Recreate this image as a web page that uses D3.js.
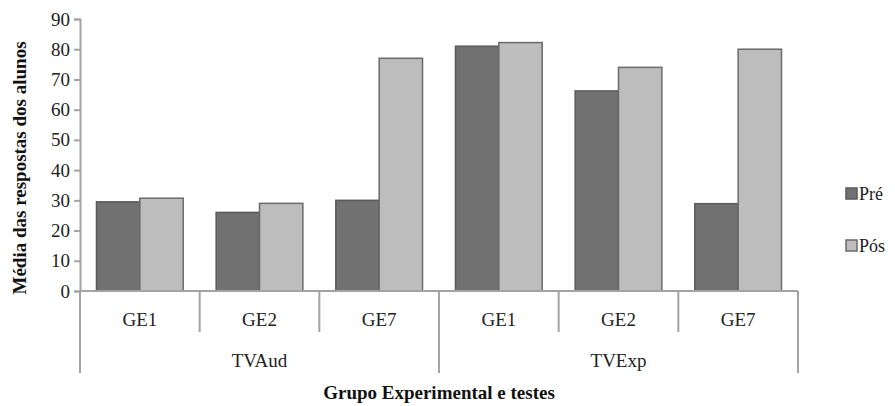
<!DOCTYPE html>
<html>
<head>
<meta charset="utf-8">
<script src="https://cdn.jsdelivr.net/npm/d3@7"></script>
<style>
  body { margin: 0; background: #fff; }
</style>
</head>
<body>
<svg></svg>
<script>
// grupos e testes
var groups = ["TVAud", "TVExp"];
var subgroups = ["GE1", "GE2", "GE7"];
var series = ["Pré", "Pós"];
var pre = [29.5, 26.0, 30.0, 81.0, 66.2, 28.9];
var pos = [30.7, 29.0, 77.0, 82.2, 74.0, 80.0];
var yTicks = [0, 10, 20, 30, 40, 50, 60, 70, 80, 90];

var serif = "'Liberation Serif', 'DejaVu Serif', serif";
var screen = {width: 895, height: 406};
var plot = {left: 80, right: 798, top: 19, bottom: 291};

var svg = d3.select("svg")
    .attr("width", screen.width)
    .attr("height", screen.height);

var cats = [];
groups.forEach(function(g) {
    subgroups.forEach(function(s) { cats.push(g + "|" + s); });
});

var xScale = d3.scaleBand()
    .domain(cats)
    .range([plot.left, plot.right]);

var xInner = d3.scaleBand()
    .domain(series)
    .range([0, xScale.bandwidth()])
    .paddingInner(0)
    .paddingOuter(0.38);

var yScale = d3.scaleLinear()
    .domain([0, 90])
    .range([plot.bottom, plot.top]);

var colors = {"Pré": "#717171", "Pós": "#bdbdbd"};
var strokes = {"Pré": "#5a5a5a", "Pós": "#6a6a6a"};
var axisColor = "#a3a3a3";

// y axis
var yAxis = svg.append("g")
    .attr("transform", "translate(" + plot.left + ",0)")
    .call(d3.axisLeft(yScale).tickValues(yTicks).tickSize(6).tickPadding(4));
yAxis.select(".domain").attr("stroke", axisColor).attr("stroke-width", 2);
yAxis.selectAll(".tick line").attr("stroke", axisColor).attr("stroke-width", 2);
yAxis.selectAll(".tick text")
    .attr("fill", "#222")
    .style("font-family", serif)
    .style("font-size", "19px");

// bars
var rows = cats.map(function(c, i) {
    return {cat: c, values: [{key: "Pré", v: pre[i]}, {key: "Pós", v: pos[i]}]};
});

var barGroups = svg.selectAll("g.cat")
    .data(rows)
    .enter()
    .append("g")
    .classed("cat", true)
    .attr("transform", function(d) { return "translate(" + xScale(d.cat) + ",0)"; });

barGroups.selectAll("rect")
    .data(function(d) { return d.values; })
    .enter()
    .append("rect")
    .attr("x", function(d) { return xInner(d.key); })
    .attr("width", xInner.bandwidth())
    .attr("y", function(d) { return yScale(d.v); })
    .attr("height", function(d) { return yScale(0) - yScale(d.v); })
    .attr("fill", function(d) { return colors[d.key]; })
    .attr("stroke", function(d) { return strokes[d.key]; })
    .attr("stroke-width", 1.5);

// x axis line
svg.append("line")
    .attr("x1", plot.left).attr("x2", plot.right)
    .attr("y1", yScale(0)).attr("y2", yScale(0))
    .attr("stroke", axisColor).attr("stroke-width", 2);

// sub category dividers
var innerBottom = 332, outerBottom = 373;
var edges = cats.map(function(c) { return xScale(c); }).concat([plot.right]);
svg.selectAll("line.div")
    .data(edges)
    .enter()
    .append("line")
    .attr("x1", function(d) { return d; })
    .attr("x2", function(d) { return d; })
    .attr("y1", yScale(0))
    .attr("y2", function(d, i) { return (i % 3 === 0) ? outerBottom : innerBottom; })
    .attr("stroke", axisColor)
    .attr("stroke-width", 2);

svg.selectAll("text.sub")
    .data(cats)
    .enter()
    .append("text")
    .attr("x", function(d) { return xScale(d) + xScale.bandwidth() / 2; })
    .attr("y", 326)
    .attr("text-anchor", "middle")
    .attr("fill", "#222")
    .style("font-family", serif)
    .style("font-size", "19px")
    .text(function(d) { return d.split("|")[1]; });

svg.selectAll("text.grp")
    .data(groups)
    .enter()
    .append("text")
    .attr("x", function(d) {
        return xScale(d + "|GE1") + xScale.bandwidth() * 1.5;
    })
    .attr("y", 367)
    .attr("text-anchor", "middle")
    .attr("fill", "#222")
    .style("font-family", serif)
    .style("font-size", "19px")
    .text(function(d) { return d; });

// axis titles
svg.append("text")
    .attr("x", 439)
    .attr("y", 399)
    .attr("text-anchor", "middle")
    .attr("font-weight", "bold")
    .attr("fill", "#111")
    .style("font-family", serif)
    .style("font-size", "19px")
    .text("Grupo Experimental e testes");

svg.append("text")
    .attr("transform", "translate(26,168) rotate(-90)")
    .attr("text-anchor", "middle")
    .attr("font-weight", "bold")
    .attr("fill", "#111")
    .style("font-family", serif)
    .style("font-size", "19px")
    .text("Média das respostas dos alunos");

// legend
var legend = svg.selectAll("g.leg")
    .data(series)
    .enter()
    .append("g")
    .classed("leg", true)
    .attr("transform", function(d, i) { return "translate(846," + (188 + i * 52) + ")"; });

legend.append("rect")
    .attr("width", 11).attr("height", 11)
    .attr("fill", function(d) { return colors[d]; })
    .attr("stroke", function(d) { return strokes[d]; })
    .attr("stroke-width", 1.5);

legend.append("text")
    .attr("x", 13)
    .attr("y", 12)
    .attr("fill", "#222")
    .style("font-family", serif)
    .style("font-size", "18px")
    .text(function(d) { return d; });
</script>
</body>
</html>
